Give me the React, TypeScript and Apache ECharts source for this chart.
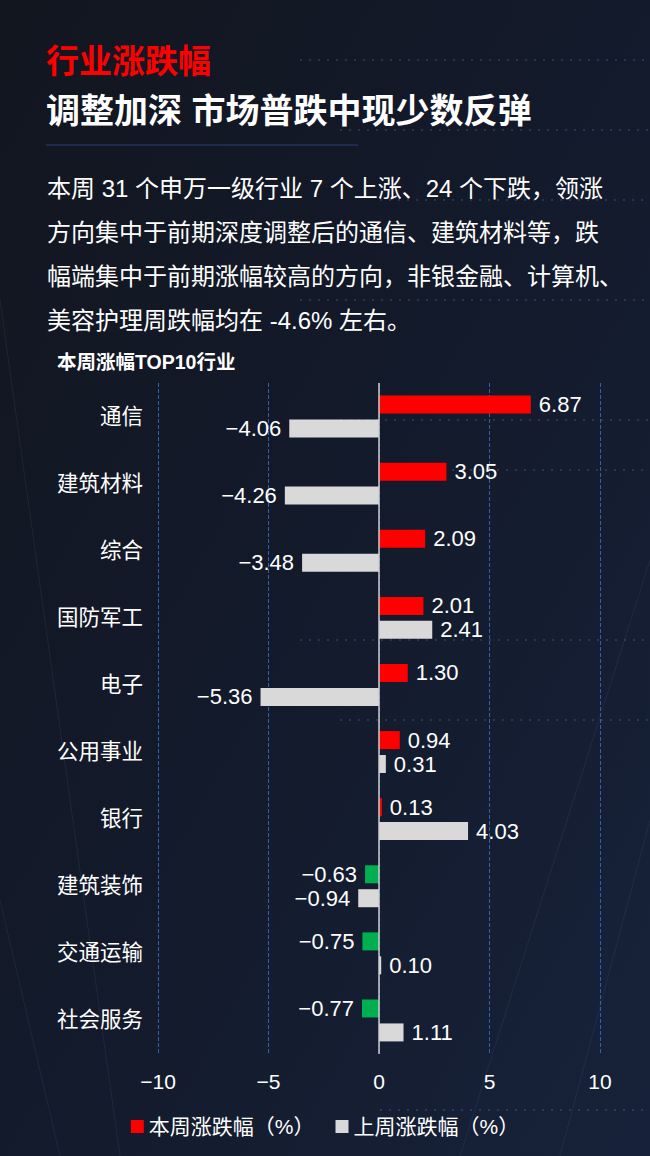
import { useEffect, useRef } from "react";
import * as echarts from "echarts";

const industries = [
  "通信",
  "建筑材料",
  "综合",
  "国防军工",
  "电子",
  "公用事业",
  "银行",
  "建筑装饰",
  "交通运输",
  "社会服务",
];
const thisWeek = [6.87, 3.05, 2.09, 2.01, 1.3, 0.94, 0.13, -0.63, -0.75, -0.77];
const lastWeek = [-4.06, -4.26, -3.48, 2.41, -5.36, 0.31, 4.03, -0.94, 0.1, 1.11];
const seriesNames = ["本周涨跌幅（%）", "上周涨跌幅（%）"];

const title = "行业涨跌幅";
const subtitle = "调整加深 市场普跌中现少数反弹";
const paragraph = [
  "本周 31 个申万一级行业 7 个上涨、24 个下跌，领涨",
  "方向集中于前期深度调整后的通信、建筑材料等，跌",
  "幅端集中于前期涨幅较高的方向，非银金融、计算机、",
  "美容护理周跌幅均在 -4.6% 左右。",
];
const chartTitle = "本周涨幅TOP10行业";

const FONT = '"Liberation Sans", "Noto Sans CJK SC", sans-serif';
const RED = "#ff0000";
const GREEN = "#00b050";
const GRAY = "#d9d9d9";

const minus = (v: number) => v.toFixed(2).replace("-", "\u2212");

export default function App() {
  const chartRef = useRef<HTMLDivElement>(null);

  useEffect(() => {
    if (!chartRef.current) return;
    document.body.style.margin = "0";
    const chart = echarts.init(chartRef.current, null, { renderer: "svg" });

    // per-bar colour and label side (negative values label on the left)
    const makeData = (values: number[], pos: string, neg?: string) =>
      values.map((v) => ({
        value: v,
        itemStyle: { color: neg && v < 0 ? neg : pos },
        label: { position: v < 0 ? "left" : "right" },
      }));

    const valueLabel = {
      show: true,
      color: "#ffffff",
      fontSize: 22,
      fontFamily: FONT,
      distance: 8,
      formatter: (p: { value: number }) => minus(p.value),
    };

    // faint "tech" decoration in the background
    const deco: any[] = [];
    [60, 130, 200, 300, 420, 470, 640, 720, 1110].forEach((y, i) => {
      deco.push({
        type: "line",
        z: -10,
        silent: true,
        shape: { x1: 300 + (i % 3) * 40, y1: y, x2: 650, y2: y },
        style: { stroke: "rgba(150,175,220,0.18)", lineWidth: 2, lineDash: [2, 7] },
      });
    });
    [
      [0, 300, 120, 1156],
      [650, 560, 460, 1156],
      [650, 820, 560, 1156],
      [0, 900, 60, 1156],
    ].forEach(([x1, y1, x2, y2]) => {
      deco.push({
        type: "line",
        z: -10,
        silent: true,
        shape: { x1, y1, x2, y2 },
        style: { stroke: "rgba(140,160,200,0.10)", lineWidth: 1 },
      });
    });

    chart.setOption({
      animation: false,
      backgroundColor: {
        type: "linear",
        x: 0,
        y: 0,
        x2: 1,
        y2: 1,
        colorStops: [
          { offset: 0, color: "#12161f" },
          { offset: 0.5, color: "#131a2b" },
          { offset: 1, color: "#17223a" },
        ],
      },
      textStyle: { fontFamily: FONT },
      graphic: [
        ...deco,
        {
          type: "text",
          left: 46,
          top: 45,
          style: { text: title, fill: RED, fontSize: 33, fontWeight: "bold", fontFamily: FONT },
        },
        {
          type: "text",
          left: 46,
          top: 94,
          style: { text: subtitle, fill: "#ffffff", fontSize: 34, fontWeight: "bold", fontFamily: FONT },
        },
        {
          type: "line",
          shape: { x1: 46, y1: 145, x2: 358, y2: 145 },
          style: { stroke: "#2e3f74", lineWidth: 1 },
        },
        ...paragraph.map((line, i) => ({
          type: "text",
          left: 47,
          top: 176 + i * 44,
          style: { text: line, fill: "#ffffff", fontSize: 24, fontFamily: FONT },
        })),
        {
          type: "text",
          left: 57,
          top: 352,
          style: { text: chartTitle, fill: "#ffffff", fontSize: 19.5, fontWeight: "bold", fontFamily: FONT },
        },
      ],
      legend: {
        data: seriesNames,
        top: 1111,
        left: "center",
        itemWidth: 13,
        itemHeight: 13,
        itemGap: 21,
        icon: "rect",
        textStyle: { color: "#ffffff", fontSize: 21, fontFamily: FONT },
      },
      grid: { left: 158, right: 50, top: 383, bottom: 102 },
      xAxis: {
        type: "value",
        min: -10,
        max: 10,
        interval: 5,
        axisLine: { show: false },
        axisTick: { show: false },
        axisLabel: {
          color: "#ffffff",
          fontSize: 21,
          margin: 17,
          fontFamily: FONT,
          formatter: (v: number) => String(v).replace("-", "\u2212"),
        },
        splitLine: { show: true, lineStyle: { color: "#3060b0", type: "dashed", width: 1 } },
      },
      yAxis: {
        type: "category",
        data: industries,
        inverse: true,
        axisLine: { show: false },
        axisTick: { show: false },
        axisLabel: { color: "#ffffff", fontSize: 21.5, margin: 15, fontFamily: FONT },
        splitLine: { show: false },
      },
      series: [
        {
          name: seriesNames[0],
          type: "bar",
          barWidth: 18,
          barGap: "33%",
          itemStyle: { color: RED },
          label: valueLabel,
          data: makeData(thisWeek, RED, GREEN),
          markLine: {
            silent: true,
            symbol: "none",
            label: { show: false },
            lineStyle: { color: "#cccccc", type: "solid", width: 1.5 },
            data: [{ xAxis: 0 }],
          },
        },
        {
          name: seriesNames[1],
          type: "bar",
          barWidth: 18,
          itemStyle: { color: GRAY },
          label: valueLabel,
          data: makeData(lastWeek, GRAY),
        },
      ],
    });

    return () => {
      chart.dispose();
    };
  }, []);

  return <div ref={chartRef} style={{ width: "650px", height: "1156px" }} />;
}
